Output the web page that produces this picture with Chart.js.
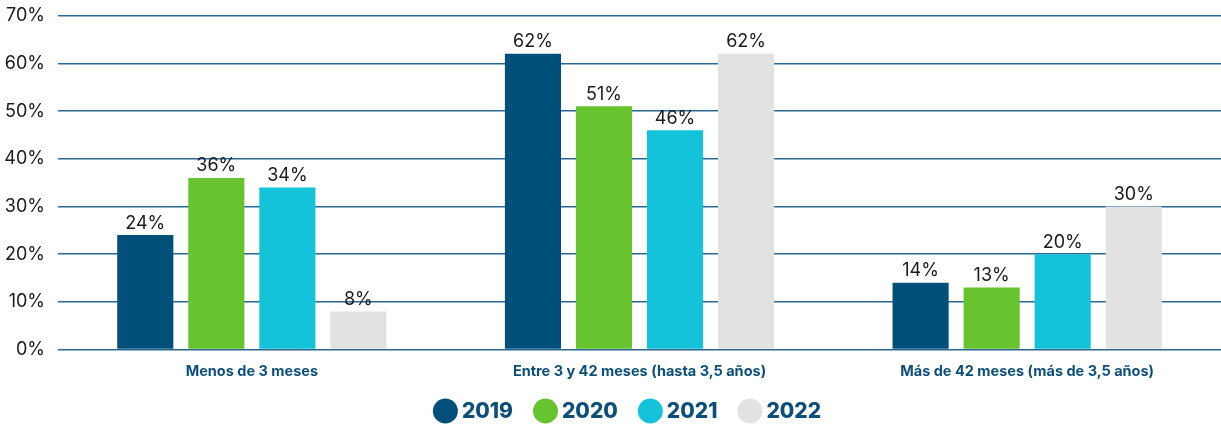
<!DOCTYPE html>
<html>
<head>
<meta charset="utf-8">
<script src="https://cdn.jsdelivr.net/npm/chart.js@4"></script>
<style>
  body { margin: 0; background: #fff; }
  #wrap { width: 1221px; height: 425px; }
</style>
</head>
<body>
<div id="wrap"><canvas id="chart" width="1221" height="425"></canvas></div>
<script>
// Data
const categories = ['Menos de 3 meses', 'Entre 3 y 42 meses (hasta 3,5 años)', 'Más de 42 meses (más de 3,5 años)'];
const years = ['2019', '2020', '2021', '2022'];
const values2019 = [24, 62, 14];
const values2020 = [36, 51, 13];
const values2021 = [34, 46, 20];
const values2022 = [8, 62, 30];
const colors = ['#00507a', '#67c42e', '#14c3d9', '#e2e2e2'];
const allValues = [values2019, values2020, values2021, values2022];

const FONT = 'Inter, sans-serif';

// Labels above each bar
const valueLabels = {
  id: 'valueLabels',
  afterDatasetsDraw(chart) {
    const ctx = chart.ctx;
    ctx.save();
    ctx.font = '18px ' + FONT;
    ctx.fillStyle = '#1a1a1a';
    ctx.textAlign = 'center';
    ctx.textBaseline = 'bottom';
    chart.data.datasets.forEach((ds, i) => {
      chart.getDatasetMeta(i).data.forEach((bar, j) => {
        ctx.fillText(ds.data[j] + '%', bar.x, bar.y - 3);
      });
    });
    ctx.restore();
  }
};

// Legend drawn by hand: round dots close to the year text
const dotLegend = {
  id: 'dotLegend',
  afterDraw(chart) {
    const ctx = chart.ctx;
    const r = 12.5, gapText = 4, gapItem = 20, y = 411;
    ctx.save();
    ctx.font = '800 21px ' + FONT;
    ctx.textBaseline = 'middle';
    const items = chart.data.datasets.map(ds => ({
      text: ds.label, color: ds.backgroundColor,
      w: r * 2 + gapText + ctx.measureText(ds.label).width
    }));
    const total = items.reduce((s, it) => s + it.w, 0) + gapItem * (items.length - 1);
    let x = 627 - total / 2;
    items.forEach(it => {
      ctx.fillStyle = it.color;
      ctx.beginPath();
      ctx.arc(x + r, y, r, 0, Math.PI * 2);
      ctx.fill();
      ctx.fillStyle = '#0d4f7a';
      ctx.textAlign = 'left';
      ctx.fillText(it.text, x + r * 2 + gapText, y + 1);
      x += it.w + gapItem;
    });
    ctx.restore();
  }
};

new Chart(document.getElementById('chart'), {
  type: 'bar',
  data: {
    labels: categories,
    datasets: years.map((y, i) => ({
      label: y,
      data: allValues[i],
      backgroundColor: colors[i],
      borderWidth: 0,
      barPercentage: 0.79,
      categoryPercentage: 0.733
    }))
  },
  options: {
    responsive: false,
    animation: false,
    layout: { padding: { top: 0, right: 0, left: 0, bottom: 40 } },
    plugins: {
      tooltip: { enabled: false },
      legend: { display: false }
    },
    scales: {
      x: {
        grid: { display: false },
        border: { display: false },
        ticks: {
          color: '#0d4f7a',
          padding: 5,
          font: { family: FONT, size: 14.5, weight: 'bold' }
        }
      },
      y: {
        min: 0,
        max: 70,
        afterFit: s => { s.width = 58; },
        ticks: {
          stepSize: 10,
          padding: 13,
          color: '#1a1a1a',
          font: { family: FONT, size: 18, lineHeight: 0.3 },
          callback: v => v + '%'
        },
        grid: { color: '#2a6892', lineWidth: 1.5, drawTicks: false },
        border: { display: false }
      }
    }
  },
  plugins: [valueLabels, dotLegend]
});
</script>
</body>
</html>
